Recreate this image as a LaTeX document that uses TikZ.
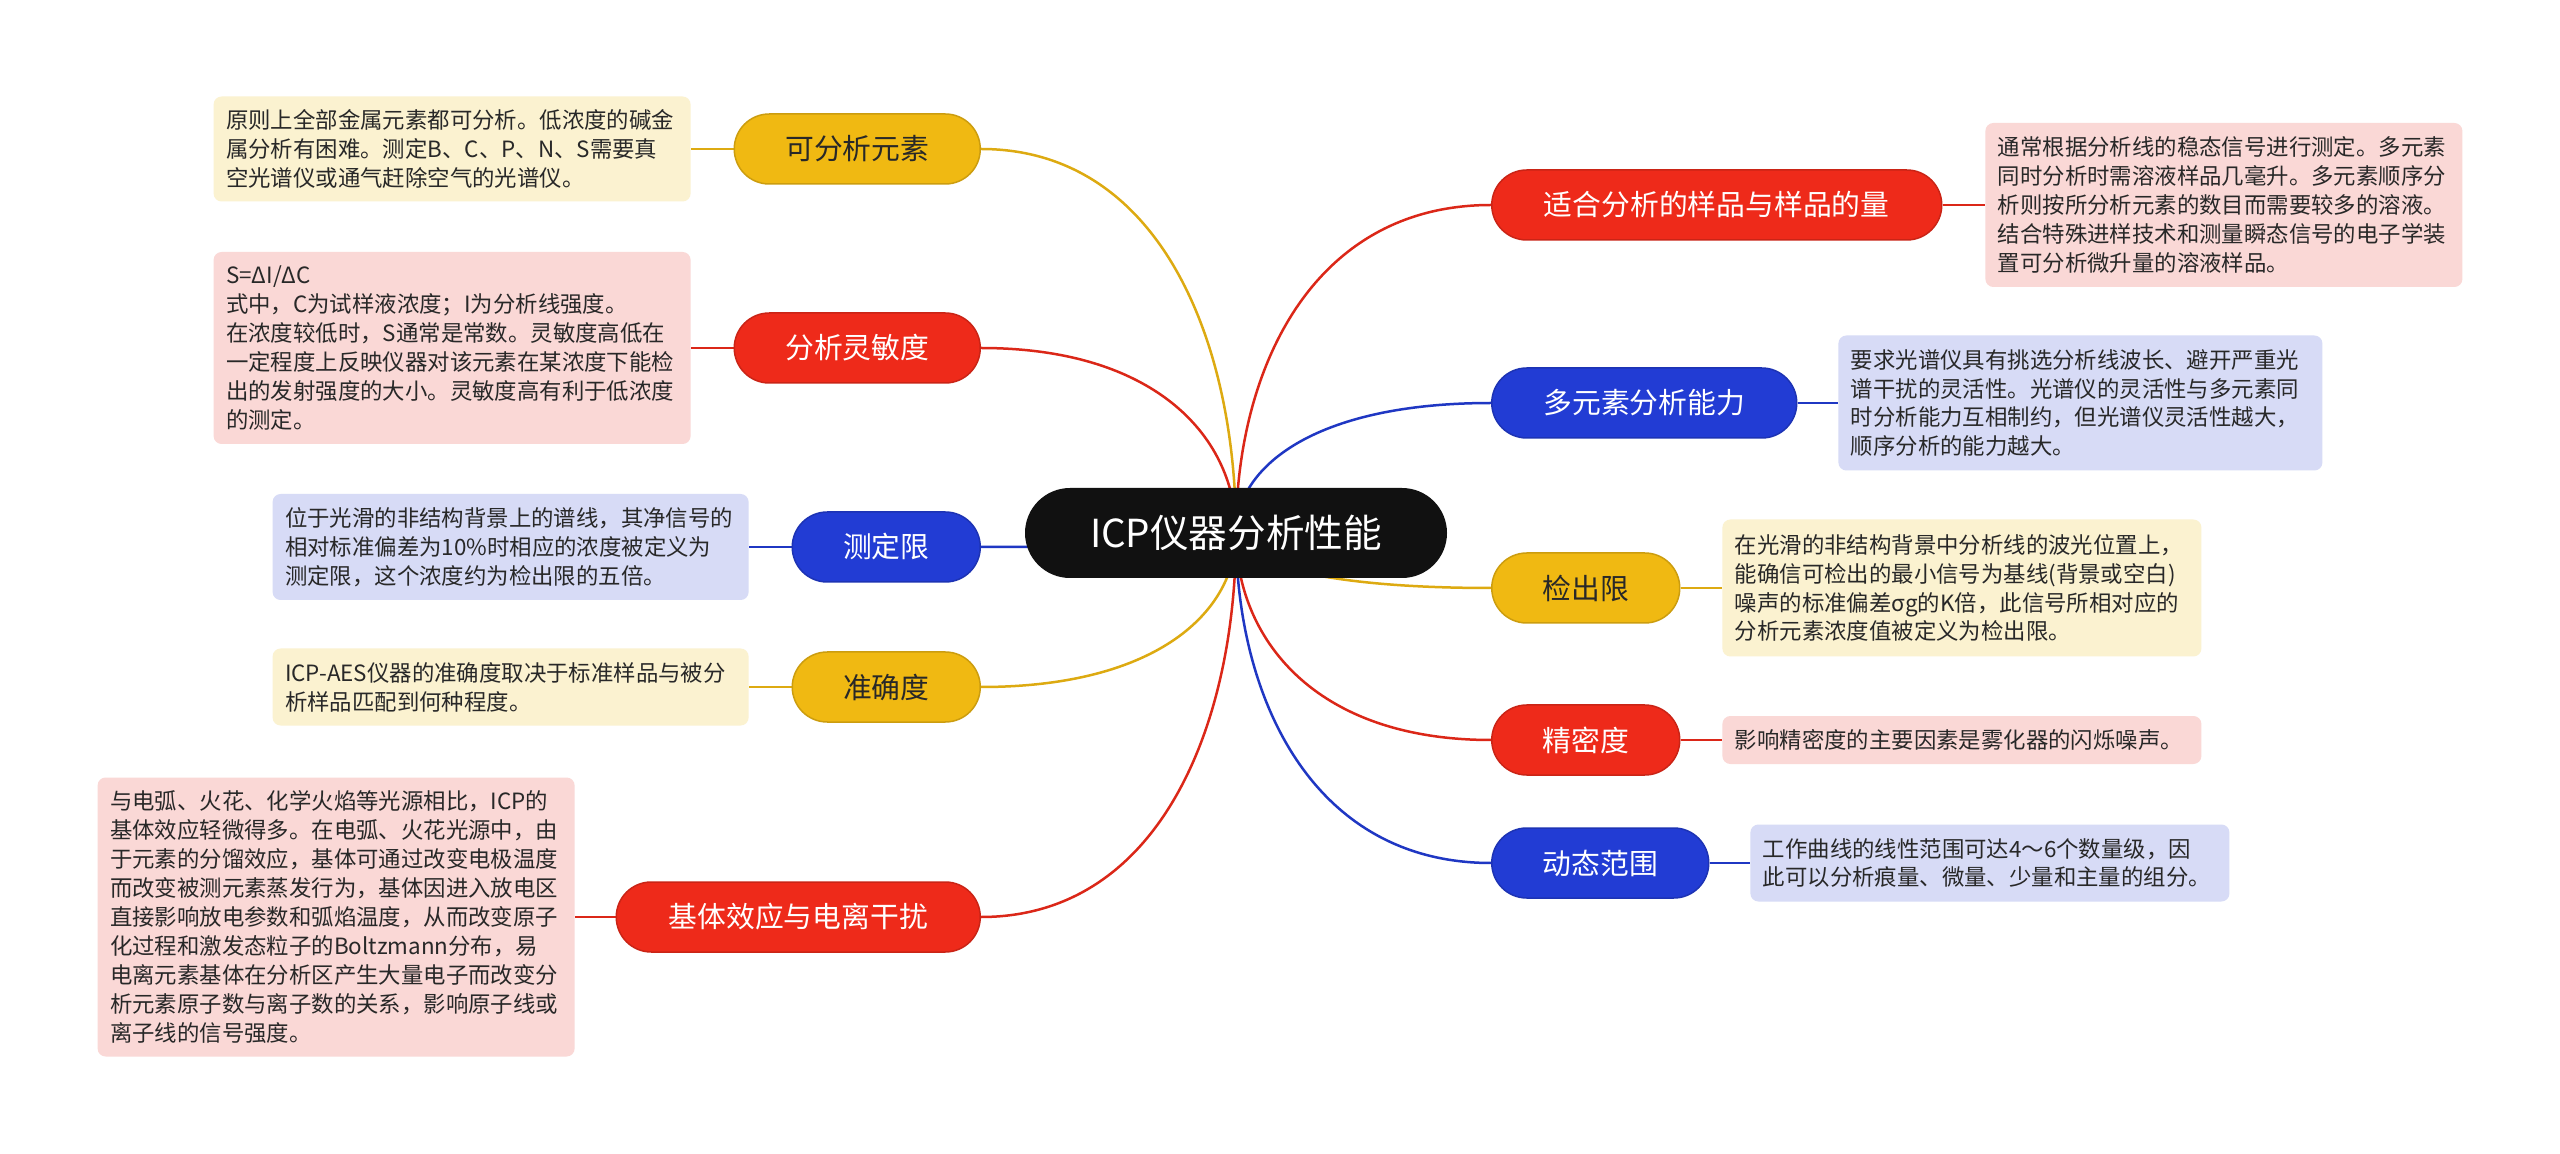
\documentclass[tikz,border=0pt]{standalone}
\usepackage{fontspec}
\setmainfont{Noto Sans CJK SC}
\usetikzlibrary{calc,backgrounds}
\definecolor{cyel}{RGB}{240,185,18}
\definecolor{cred}{RGB}{238,42,26}
\definecolor{cblu}{RGB}{34,60,212}
\definecolor{byel}{RGB}{251,242,208}
\definecolor{bred}{RGB}{250,216,214}
\definecolor{bblu}{RGB}{215,219,246}
\definecolor{txt}{RGB}{40,40,40}
\definecolor{rootc}{RGB}{17,17,17}
\newcommand\mmbranch[3]{\draw[#3] (#1) .. controls ($(#1)!0.5!(#1 |- #2)$) and ($(#1 |- #2)!0.3!(#2)$) .. (#2);}
\tikzset{
  pill/.style={rectangle, rounded corners=17.5pt, minimum height=35pt, inner sep=0pt,
    font=\fontsize{14.4pt}{17pt}\selectfont, line width=0.75pt},
  ypill/.style={pill, fill=cyel, draw=cyel!85!black, text=txt},
  rpill/.style={pill, fill=cred, draw=cred!85!black, text=white},
  bpill/.style={pill, fill=cblu, draw=cblu!85!black, text=white},
  notebox/.style={rectangle, rounded corners=4pt, inner xsep=6.25pt, inner ysep=0pt,
    align=left, text=txt, font=\fontsize{11.2pt}{14.45pt}\selectfont},
  ynote/.style={notebox, fill=byel},
  rnote/.style={notebox, fill=bred},
  bnote/.style={notebox, fill=bblu},
  conn/.style={line width=1.25pt},
  yconn/.style={conn, draw=cyel!92!black},
  rconn/.style={conn, draw=cred!92!black},
  bconn/.style={conn, draw=cblu!92!black},
  rootbox/.style={rectangle, fill=rootc, rounded corners=22.5pt, minimum width=211pt,
    minimum height=45pt, text=white, font=\fontsize{19.3pt}{23pt}\selectfont}
}
\begin{document}
\begin{tikzpicture}[x=0.5pt, y=-0.5pt]
\useasboundingbox (0,0) rectangle (2560,1154);
% root
\node[rootbox] (c) at (1236,533) {ICP仪器分析性能};
% left pills
\node[ypill, minimum width=123pt, anchor=east] (p1) at (981,149) {可分析元素};
\node[rpill, minimum width=123pt, anchor=east] (p2) at (981,348) {分析灵敏度};
\node[bpill, minimum width=94pt, anchor=east] (p3) at (981,547) {测定限};
\node[ypill, minimum width=94pt, anchor=east] (p4) at (981,687) {准确度};
\node[rpill, minimum width=182pt, anchor=east] (p5) at (981,917) {基体效应与电离干扰};
% right pills
\node[rpill, minimum width=225pt, anchor=west] (q1) at (1491,205) {适合分析的样品与样品的量};
\node[bpill, minimum width=152.5pt, anchor=west] (q2) at (1491,403) {多元素分析能力};
\node[ypill, minimum width=94pt, anchor=west] (q3) at (1491,588) {检出限};
\node[rpill, minimum width=94pt, anchor=west] (q4) at (1491,740) {精密度};
\node[bpill, minimum width=108.5pt, anchor=west] (q5) at (1491,863) {动态范围};
% left notes
\node[ynote, text width=226pt, minimum height=52.5pt, anchor=east] (b1) at (691,149)
 {原则上全部金属元素都可分析。低浓度的碱金\\属分析有困难。测定B、C、P、N、S需要真\\空光谱仪或通气赶除空气的光谱仪。};
\node[rnote, text width=226pt, minimum height=96pt, anchor=east] (b2) at (691,348)
 {S=ΔI/ΔC\\式中，C为试样液浓度；I为分析线强度。\\在浓度较低时，S通常是常数。灵敏度高低在\\一定程度上反映仪器对该元素在某浓度下能检\\出的发射强度的大小。灵敏度高有利于低浓度\\的测定。};
\node[bnote, text width=225.5pt, minimum height=53pt, anchor=east] (b3) at (749,547)
 {位于光滑的非结构背景上的谱线，其净信号的\\相对标准偏差为10\%时相应的浓度被定义为\\测定限，这个浓度约为检出限的五倍。};
\node[ynote, text width=225.5pt, minimum height=38.5pt, anchor=east] (b4) at (749,687)
 {ICP-AES仪器的准确度取决于标准样品与被分\\析样品匹配到何种程度。};
\node[rnote, text width=226pt, minimum height=139.5pt, anchor=east] (b5) at (575,917)
 {与电弧、火花、化学火焰等光源相比，ICP的\\基体效应轻微得多。在电弧、火花光源中，由\\于元素的分馏效应，基体可通过改变电极温度\\而改变被测元素蒸发行为，基体因进入放电区\\直接影响放电参数和弧焰温度，从而改变原子\\化过程和激发态粒子的Boltzmann分布，易\\电离元素基体在分析区产生大量电子而改变分\\析元素原子数与离子数的关系，影响原子线或\\离子线的信号强度。};
% right notes
\node[rnote, text width=226pt, minimum height=82pt, anchor=west] (r1) at (1985,205)
 {通常根据分析线的稳态信号进行测定。多元素\\同时分析时需溶液样品几毫升。多元素顺序分\\析则按所分析元素的数目而需要较多的溶液。\\结合特殊进样技术和测量瞬态信号的电子学装\\置可分析微升量的溶液样品。};
\node[bnote, text width=229.5pt, minimum height=67.5pt, anchor=west] (r2) at (1838,403)
 {要求光谱仪具有挑选分析线波长、避开严重光\\谱干扰的灵活性。光谱仪的灵活性与多元素同\\时分析能力互相制约，但光谱仪灵活性越大，\\顺序分析的能力越大。};
\node[ynote, text width=227pt, minimum height=68.5pt, anchor=west] (r3) at (1722,588)
 {在光滑的非结构背景中分析线的波光位置上，\\能确信可检出的最小信号为基线(背景或空白)\\噪声的标准偏差σg的K倍，此信号所相对应的\\分析元素浓度值被定义为检出限。};
\node[rnote, text width=227pt, minimum height=24pt, anchor=west] (r4) at (1722,740)
 {影响精密度的主要因素是雾化器的闪烁噪声。};
\node[bnote, text width=227pt, minimum height=38.5pt, anchor=west] (r5) at (1750,863)
 {工作曲线的线性范围可达4～6个数量级，因\\此可以分析痕量、微量、少量和主量的组分。};
% connectors
\begin{pgfonlayer}{background}
\fill[white] (0,0) rectangle (2560,1154);
\mmbranch{c.center}{p1.east}{yconn}
\mmbranch{c.center}{p2.east}{rconn}
\mmbranch{c.center}{p3.east}{bconn}
\mmbranch{c.center}{p4.east}{yconn}
\mmbranch{c.center}{p5.east}{rconn}
\mmbranch{c.center}{q1.west}{rconn}
\mmbranch{c.center}{q2.west}{bconn}
\mmbranch{c.center}{q3.west}{yconn}
\mmbranch{c.center}{q4.west}{rconn}
\mmbranch{c.center}{q5.west}{bconn}
\draw[yconn] (p1.west) -- (b1.east);
\draw[rconn] (p2.west) -- (b2.east);
\draw[bconn] (p3.west) -- (b3.east);
\draw[yconn] (p4.west) -- (b4.east);
\draw[rconn] (p5.west) -- (b5.east);
\draw[rconn] (q1.east) -- (r1.west);
\draw[bconn] (q2.east) -- (r2.west);
\draw[yconn] (q3.east) -- (r3.west);
\draw[rconn] (q4.east) -- (r4.west);
\draw[bconn] (q5.east) -- (r5.west);
\end{pgfonlayer}
\end{tikzpicture}
\end{document}
